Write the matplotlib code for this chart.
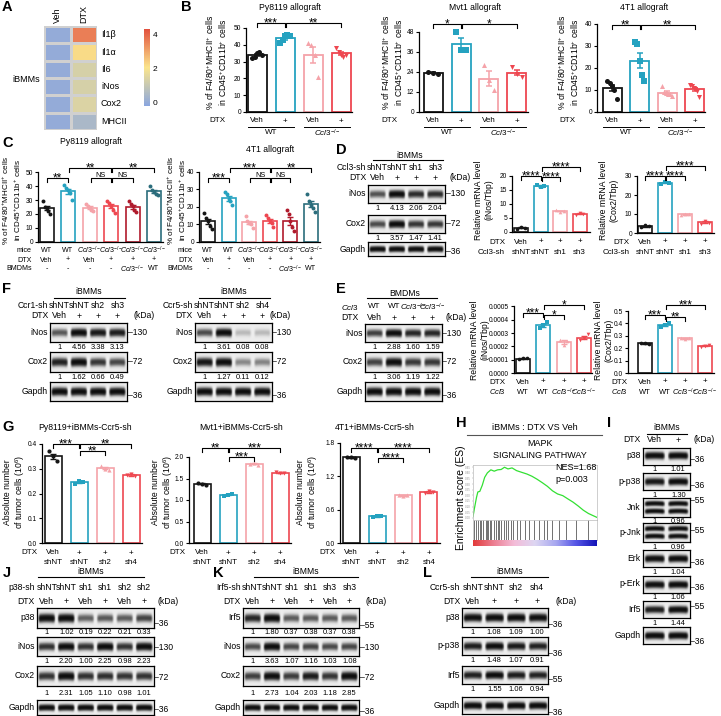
import numpy as np
import matplotlib
matplotlib.use('Agg')
import matplotlib.pyplot as plt
from matplotlib.colors import LinearSegmentedColormap

plt.rcParams['font.family'] = ['Liberation Sans', 'DejaVu Sans']
plt.rcParams['mathtext.fontset'] = 'custom'
plt.rcParams['mathtext.rm'] = 'Liberation Sans'
plt.rcParams['mathtext.it'] = 'Liberation Sans:italic'
plt.rcParams['mathtext.bf'] = 'Liberation Sans:bold'
plt.rcParams['axes.linewidth'] = 0.8

# ======================= DATA =======================
# A: heatmap
hm_genes = ['Il1β', 'Il1α', 'Il6', 'iNos', 'Cox2', 'MHCII']
hm_conditions = ['Veh', 'DTX']
hm_veh = [0.0, 0.0, 0.0, 0.0, 0.0, 0.0]
hm_dtx = [3.6, 2.2, 1.3, 1.3, 1.4, 0.45]
hm_ticks = [0, 2, 4]

CCL3 = r'$\it{Ccl3}^{-/-}$'
# B: F4/80+MHCII+ (% of CD45+CD11b+)
b_dtx = ['Veh', '+', 'Veh', '+']
b_geno = ['WT', CCL3]
b_py = [[32, 33, 35, 36, 34], [41, 43, 45, 46, 45], [41, 40, 34, 21], [38, 36, 34, 33, 34]]
b_mvt = [[24, 23.5, 23], [48, 37, 37], [28, 19, 13], [27, 23, 21]]
b_4t1 = [[14, 13, 12, 10, 6], [32, 31, 23, 17, 14], [12, 9, 8.5, 8, 8, 7.5],
         [12.4, 11.9, 10.9, 10.4, 9.4, 6.8]]

# C
c_mice = ['WT', 'WT', CCL3, CCL3, CCL3, CCL3]
c_dtx = ['Veh', '+', 'Veh', '+', '+', '+']
c_bmdm = ['-', '-', '-', '-', CCL3, 'WT']
c_py = [[29, 25, 24, 22, 20], [41, 39, 37, 35, 30], [27.5, 26, 24.5, 23, 22],
        [29.5, 28, 26, 23, 21], [29, 27.5, 25.5, 23, 21.5], [40, 37, 36, 34.5, 34]]
c_4t1 = [[16.5, 13.5, 12, 9, 7.5], [28.5, 27, 24.5, 23, 21], [14.5, 12, 11, 10, 8],
         [15.5, 13.5, 12, 10.5, 8.5], [18, 16, 12, 8.5, 6], [27, 23, 21, 19.5, 17]]

# D
d_dtx = ['Veh', '+', '+', '+']
d_sh = ['shNT', 'shNT', 'sh1', 'sh3']
d_inos_blot = [1, 4.13, 2.06, 2.04]
d_cox2_blot = [1, 3.57, 1.47, 1.41]
d_gapdh_blot = [1, 1, 1, 1]
d_inos_mrna = [[1.2, 1.9, 1.5], [16.8, 16.1, 16.3], [7.7, 7.3, 7.5], [6.2, 6.7, 6.5]]
d_cox2_mrna = [[3.0, 4.0, 3.5], [26.0, 26.9, 26.5], [9.5, 10.2, 9.8], [5.0, 6.5, 5.3]]

# E
e_dtx = ['Veh', '+', '+', '+']
e_geno = ['WT', 'WT', CCL3, CCL3]
e_inos_blot = [1, 2.88, 1.60, 1.59]
e_cox2_blot = [1, 3.06, 1.19, 1.22]
e_gapdh_blot = [1, 1, 1, 1]
e_inos_mrna = [[0.000105, 0.00011, 0.000112], [0.00034, 0.00036, 0.00038],
               [0.00025, 0.00021, 0.00024], [0.00025, 0.00026, 0.00029]]
e_cox2_mrna = [[0.24, 0.245, 0.235], [0.37, 0.39, 0.40], [0.28, 0.275, 0.285], [0.21, 0.22, 0.225]]

# F
f_dtx = ['Veh', '+', '+', '+']
f1_sh = ['shNT', 'shNT', 'sh2', 'sh3']
f1_inos = [1, 4.56, 3.38, 3.13]
f1_cox2 = [1, 1.62, 0.66, 0.49]
f2_sh = ['shNT', 'shNT', 'sh2', 'sh4']
f2_inos = [1, 3.61, 0.08, 0.08]
f2_cox2 = [1, 1.27, 0.11, 0.12]
f_gapdh = [1, 1, 1, 1]

# G
g_dtx = ['Veh', '+', '+', '+']
g_sh = ['shNT', 'shNT', 'sh2', 'sh4']
g_py = [[0.37, 0.35, 0.33], [0.24, 0.25, 0.245], [0.31, 0.30, 0.295], [0.275, 0.28, 0.27]]
g_mvt = [[1.40, 1.38, 1.36], [1.10, 1.12, 1.14], [1.84, 1.86, 1.82], [1.64, 1.63, 1.62]]
g_4t1 = [[1.54, 1.55, 1.53], [0.47, 0.48, 0.49], [0.86, 0.85, 0.87], [0.90, 0.94, 0.92]]

# H: GSEA running enrichment score
h_rank = [0, 0.011, 0.028, 0.039, 0.055, 0.075, 0.094, 0.116, 0.144, 0.171, 0.199, 0.227,
          0.254, 0.282, 0.315, 0.351, 0.392, 0.434, 0.475, 0.517, 0.558, 0.6, 0.641, 0.682,
          0.724, 0.765, 0.807, 0.848, 0.89, 0.931, 0.972, 1.0]
h_es = [0.01, 0.08, 0.18, 0.23, 0.235, 0.29, 0.36, 0.40, 0.427, 0.415, 0.427, 0.43,
        0.45, 0.435, 0.444, 0.42, 0.405, 0.39, 0.37, 0.343, 0.313, 0.28, 0.24, 0.212,
        0.197, 0.168, 0.139, 0.105, 0.067, 0.038, 0.017, 0.003]
h_hits = [0.01, 0.028, 0.039, 0.055, 0.066, 0.083, 0.102, 0.116, 0.124, 0.138, 0.149, 0.166,
          0.185, 0.199, 0.213, 0.227, 0.249, 0.268, 0.282, 0.304, 0.323, 0.351, 0.378, 0.42,
          0.448, 0.489, 0.53, 0.572, 0.6, 0.641, 0.696, 0.751, 0.834, 0.931]

# I
i_dtx = ['Veh', '+']
i_blots = [('p38', [1, 1.01], '36'), ('p-p38', [1, 1.30], '36'), ('Jnk', [1, 0.96], '55'),
           ('p-Jnk', [1, 0.96], '55'), ('Erk', [1, 1.04], '36'), ('p-Erk', [1, 1.06], '36'),
           ('Irf5', [1, 1.44], '55'), ('Gapdh', [1, 1], '36')]

# J
j_sh = ['shNT', 'shNT', 'sh1', 'sh1', 'sh2', 'sh2']
j_dtx = ['Veh', '+', 'Veh', '+', 'Veh', '+']
j_p38 = [1, 1.02, 0.19, 0.22, 0.21, 0.33]
j_inos = [1, 2.20, 1.00, 2.25, 0.98, 2.23]
j_cox2 = [1, 2.31, 1.05, 1.10, 0.98, 1.01]
j_gapdh = [1, 1, 1, 1, 1, 1]

# K
k_sh = ['shNT', 'shNT', 'sh1', 'sh1', 'sh3', 'sh3']
k_dtx = ['Veh', '+', 'Veh', '+', 'Veh', '+']
k_irf5 = [1, 1.80, 0.37, 0.38, 0.37, 0.38]
k_inos = [1, 3.63, 1.07, 1.16, 1.03, 1.08]
k_cox2 = [1, 2.73, 1.04, 2.03, 1.18, 2.85]
k_gapdh = [1, 1, 1, 1, 1, 1]

# L
l_sh = ['shNT', 'shNT', 'sh2', 'sh4']
l_dtx = ['Veh', '+', '+', '+']
l_p38 = [1, 1.08, 1.09, 1.00]
l_pp38 = [1, 1.48, 1.07, 0.91]
l_irf5 = [1, 1.55, 1.06, 0.94]
l_gapdh = [1, 1, 1, 1]

# ======================= STYLE / LAYOUT =======================
W, H = 721, 716
BLACK, TEAL, PINK, RED = '#151515', '#25a2c0', '#f5a3a9', '#ee4750'
DRED, DTEAL = '#b01a2c', '#2b6d7c'
FS_T, FS_L, FS_TK, FS_X, FS_B = 6.2, 6.2, 4.8, 5.8, 6.2

fig = plt.figure(figsize=(W / 100, H / 100), dpi=100)
ov = fig.add_axes([0, 0, 1, 1])
ov.set_xlim(0, W)
ov.set_ylim(H, 0)
ov.axis('off')
ov.set_zorder(10)


def R(x0, y0, x1, y1):
    return [x0 / W, 1 - y1 / H, (x1 - x0) / W, (y1 - y0) / H]


def T(x, y, s, size=FS_X, ha='center', va='center', **kw):
    ov.text(x, y, s, fontsize=size, ha=ha, va=va, **kw)


def letter(x, y, s):
    T(x, y, s, size=10.5, ha='left', va='center', fontweight='bold')


def barchart(groups, colors, markers, axis_x, c0, sp, right_x, y0, ytop, ymax, yticks,
             yticklabels=None, bw=14, ms=8, lw=1.2):
    n = len(groups)
    ax = fig.add_axes(R(axis_x, ytop, right_x, y0))
    ax.patch.set_visible(False)
    ax.set_xlim((axis_x - c0) / sp, (right_x - c0) / sp)
    ax.set_ylim(0, ymax)
    x = np.arange(n)
    means = np.array([np.mean(g) for g in groups])
    sems = np.array([np.std(g, ddof=1) / np.sqrt(len(g)) for g in groups])
    w = bw / sp
    ax.bar(x, means, width=w, facecolor='none', edgecolor=colors, linewidth=lw, zorder=2)
    for i, g in enumerate(groups):
        off = np.linspace(-0.26, 0.26, len(g)) * w
        ax.scatter(i + off, g, s=ms, marker=markers[i], color=colors[i], linewidths=0,
                   zorder=4, clip_on=False)
        ax.errorbar([i], [means[i]], yerr=[sems[i]], color=colors[i], capsize=2.2,
                    elinewidth=lw * 0.85, capthick=lw * 0.85, zorder=3)
    for s in ['top', 'right']:
        ax.spines[s].set_visible(False)
    ax.spines['left'].set_linewidth(0.9)
    ax.spines['bottom'].set_linewidth(0.9)
    ax.set_xticks([])
    ax.set_yticks(yticks)
    if yticklabels is not None:
        ax.set_yticklabels(yticklabels)
    ax.tick_params(axis='y', length=2.5, width=0.8, labelsize=FS_TK, pad=1)
    return [c0 + i * sp for i in range(n)]


def bracket(cx, i, j, y, label, size=8.5, tick=3.5, gap=1.0):
    xa, xb = cx[i] + (gap if i > 0 else 0), cx[j]
    ov.plot([xa, xa, xb, xb], [y + tick, y, y, y + tick], color='k', lw=0.8)
    if label == 'NS':
        T((xa + xb) / 2, y - 1.2, label, size=5.3, va='baseline')
    else:
        T((xa + xb) / 2, y + 3.0, label, size=size, va='baseline')


def xrow(cx, y, head, labels, head_x, size=FS_X, head_kw=None):
    if head:
        T(head_x, y, head, size=size, ha='right', **(head_kw or {}))
    for x, s in zip(cx, labels):
        T(x, y, s, size=size)


def ylabel(x, y, s, size=FS_L):
    T(x, y, s, size=size, rotation=90, linespacing=1.15)


def band_image(vals, nbands=1, ncol=50, nrow=30):
    vals = np.asarray(vals, float)
    n = len(vals)
    amp = 0.95 * np.clip(vals / vals.max(), 0, 1) ** 0.6
    xs = (np.arange(n * ncol) + 0.5) / ncol
    ys = (np.arange(nrow) + 0.5) / nrow
    img = np.zeros((nrow, n * ncol)) + 0.03
    centers = [0.5] if nbands == 1 else [0.32, 0.7]
    sig = 0.17 if nbands == 1 else 0.1
    for i, a in enumerate(amp):
        d = np.abs(xs - (i + 0.5))
        fx = np.clip((0.45 - d) / 0.12, 0, 1)
        for yc in centers:
            fy = np.exp(-((ys[:, None] - yc - 0.15 * d[None, :] ** 2) / sig) ** 2)
            img += a * fy * fx[None, :]
    img = 1 - np.exp(-2.4 * img)
    return img / (1 - np.exp(-2.4))


def blot(x0, x1, y0, y1, vals, label, kda, kda_dy=0.0, nums=True, nbands=1, num_dy=5.2):
    n = len(vals)
    ax = fig.add_axes(R(x0, y0, x1, y1))
    ax.imshow(band_image(vals, nbands), cmap='gray_r', vmin=0, vmax=1.05, aspect='auto',
              extent=(0, n, 1, 0), interpolation='bilinear')
    ax.set_xticks([])
    ax.set_yticks([])
    for s in ax.spines.values():
        s.set_linewidth(0.9)
    T(x0 - 2.5, (y0 + y1) / 2, label, size=FS_B, ha='right')
    T(x1 + 0.5, (y0 + y1) / 2 + kda_dy, '–' + kda, size=FS_B, ha='left')
    if nums:
        lw_ = (x1 - x0) / n
        for i, v in enumerate(vals):
            T(x0 + (i + 0.5) * lw_, y1 + num_dy, '1' if i == 0 else f'{v:.2f}', size=5.4)


def lanes(x0, x1, n):
    return [x0 + (i + 0.5) * (x1 - x0) / n for i in range(n)]


mk4 = ['o', 's', '^', 'v']
col4 = [BLACK, TEAL, PINK, RED]
col6 = [BLACK, TEAL, PINK, RED, DRED, DTEAL]

# ======================= A =======================
letter(2, 7, 'A')
hm_cmap = LinearSegmentedColormap.from_list('hm', ['#8aa6df', '#fbe58c', '#e2513e'])
axA = fig.add_axes(R(44, 26, 97, 130))
mesh = axA.pcolormesh(np.column_stack([hm_veh, hm_dtx]), cmap=hm_cmap, vmin=-0.2, vmax=4.3,
                      edgecolors='#d0d0d0', linewidth=0.8)
axA.set_xlim(0, 2)
axA.set_ylim(len(hm_genes), 0)
axA.axis('off')
for i, g in enumerate(hm_genes):
    axA.text(2.15, i + 0.5, g, fontsize=6.5, ha='left', va='center', clip_on=False)
for j, c in enumerate(hm_conditions):
    axA.text(j + 0.5, -0.2, c, fontsize=6.5, ha='center', va='bottom', rotation=90, clip_on=False)
T(26, 79, 'iBMMs', size=6.5)
cax = fig.add_axes(R(144, 29, 150, 106))
cb = fig.colorbar(mesh, cax=cax, ticks=hm_ticks)
cb.outline.set_visible(False)
cax.tick_params(length=0, labelsize=6, pad=2)

# ======================= B =======================
letter(181, 7, 'B')
b_specs = [
    (b_py, 'Py8119 allograft', 246, 257, 28, 352, 112, 28, 50, [0, 10, 20, 30, 40, 50], 217, 290,
     [(0, 1, 23, '***'), (1, 3, 23, '**')]),
    (b_mvt, 'Mvt1 allograft', 419, 433, 28, 528, 112, 32, 48, [0, 12, 24, 36, 48], 393, 475,
     [(0, 1, 24, '*'), (1, 3, 24, '*')]),
    (b_4t1, '4T1 allograft', 597, 612, 27.5, 705, 112, 24, 40, [0, 10, 20, 30, 40], 569, 644,
     [(0, 1, 25, '**'), (1, 3, 25, '**')]),
]
for data, title, ax_x, c0, sp, rx, y0, yt, ymax, ticks, ylx, tx, brs in b_specs:
    cx = barchart(data, col4, mk4, ax_x, c0, sp, rx, y0, yt, ymax, ticks, bw=19, ms=13, lw=1.3)
    T(tx, 8, title, size=FS_T)
    ylabel(ylx, 62, '% of F4/80$^{+}$MHCII$^{+}$ cells\nin CD45$^{+}$CD11b$^{+}$ cells')
    for i, j, y, s in brs:
        bracket(cx, i, j, y, s)
    xrow(cx, 121, 'DTX', b_dtx, ax_x - 21)
    for k in range(2):
        ov.plot([cx[2 * k] - 9, cx[2 * k + 1] + 9], [126.5, 126.5], color='k', lw=0.7)
        T((cx[2 * k] + cx[2 * k + 1]) / 2, 133, b_geno[k])

# ======================= C =======================
letter(2, 143, 'C')
c_specs = [
    (c_py, 'Py8119 allograft', 38, 46.5, 21.5, 163, 241.7, 172.3, 50, [0, 10, 20, 30, 40, 50], 12, 91, 142,
     [(0, 1, 178, '**'), (1, 3, 168, '**'), (2, 3, 178, 'NS'), (3, 5, 168, '**'), (3, 4, 178, 'NS')]),
    (c_4t1, '4T1 allograft', 199, 208, 20.6, 320, 242, 171.5, 40, [0, 10, 20, 30, 40], 177, 270, 150,
     [(0, 1, 178, '***'), (1, 3, 168, '***'), (2, 3, 178, 'NS'), (3, 5, 168, '**'), (3, 4, 178, 'NS')]),
]
for data, title, ax_x, c0, sp, rx, y0, yt, ymax, ticks, ylx, tx, ty, brs in c_specs:
    cx = barchart(data, col6, ['o'] * 6, ax_x, c0, sp, rx, y0, yt, ymax, ticks, bw=14, ms=8, lw=1.2)
    T(tx, ty, title, size=FS_T)
    ylabel(ylx, 200, '% of F4/80$^{+}$MHCII$^{+}$ cells\nin CD45$^{+}$CD11b$^{+}$ cells', size=5.9)
    for i, j, y, s in brs:
        bracket(cx, i, j, y, s)
    xrow(cx, 250, 'mice', c_mice, ax_x - 6, size=5.1)
    xrow(cx, 260, 'DTX', c_dtx, ax_x - 6, size=5.1)
    xrow(cx, 269, 'BMDMs', c_bmdm, ax_x - 6, size=5.1)

# ======================= D =======================
letter(336, 150, 'D')
dl = lanes(368, 445, 4)
T(410, 155, 'iBMMs', size=FS_B)
ov.plot([373, 443], [160, 160], color='k', lw=0.8)
xrow(dl, 168, 'Ccl3-sh', d_sh, 366, size=FS_B)
xrow(dl, 178, 'DTX', d_dtx, 366, size=FS_B)
T(450, 178, '(kDa)', size=FS_B, ha='left')
blot(368, 445, 185, 203, d_inos_blot, 'iNos', '130')
blot(368, 445, 215, 233, d_cox2_blot, 'Cox2', '72')
blot(368, 445, 242, 256, d_gapdh_blot, 'Gapdh', '36', kda_dy=3, nums=False)

cx = barchart(d_inos_mrna, col4, mk4, 512, 521, 19.5, 590, 232, 176, 20, [0, 5, 10, 15, 20],
              bw=14, ms=7, lw=1.2)
ylabel(484, 200, 'Relative mRNA level\n(iNos/Tbp)')
for i, j, y, s in [(0, 1, 176, '****'), (1, 2, 177, '****'), (1, 3, 167, '****')]:
    bracket(cx, i, j, y, s)
xrow(cx, 242, 'DTX', d_dtx, 505, size=FS_X)
xrow(cx, 252, 'Ccl3-sh', d_sh, 505, size=FS_X)

cx = barchart(d_cox2_mrna, col4, mk4, 637, 645, 20, 714, 233, 176, 30, [0, 10, 20, 30],
              bw=14, ms=7, lw=1.2)
ylabel(609, 200, 'Relative mRNA level\n(Cox2/Tbp)')
for i, j, y, s in [(0, 1, 176, '****'), (1, 2, 176, '****'), (1, 3, 166, '****')]:
    bracket(cx, i, j, y, s)
xrow(cx, 242, 'DTX', d_dtx, 630, size=FS_X)
xrow(cx, 252, 'Ccl3-sh', d_sh, 630, size=FS_X)

# ======================= F =======================
letter(2, 289, 'F')
for (x0, x1, sh, head, inos, cox2, kx) in [(50, 127, f1_sh, 'Ccr1-sh', f1_inos, f1_cox2, 134),
                                         (195, 272, f2_sh, 'Ccr5-sh', f2_inos, f2_cox2, 270)]:
    fl = lanes(x0, x1, 4)
    T((x0 + x1) / 2, 292, 'iBMMs', size=FS_B)
    ov.plot([x0 + 4, x1 - 2], [298, 298], color='k', lw=0.8)
    xrow(fl, 306, head, sh, x0 - 2, size=FS_B)
    xrow(fl, 316, 'DTX', f_dtx, x0 - 2, size=FS_B)
    T(kx, 316, '(kDa)', size=FS_B, ha='left')
    blot(x0, x1, 323, 342, inos, 'iNos', '130')
    blot(x0, x1, 352, 372, cox2, 'Cox2', '72')
    blot(x0, x1, 382, 401, f_gapdh, 'Gapdh', '36', kda_dy=4, nums=False)

# ======================= E =======================
letter(336, 289, 'E')
el = lanes(365, 442, 4)
T(405, 293, 'BMDMs', size=FS_B)
ov.plot([367, 437], [298, 298], color='k', lw=0.8)
xrow(el, 307, r'$\it{Ccl3}$', e_geno, 359, size=5.8)
xrow(el, 318, 'DTX', e_dtx, 359, size=FS_B)
T(445, 318, '(kDa)', size=FS_B, ha='left')
blot(365, 442, 324, 342, e_inos_blot, 'iNos', '130')
blot(365, 442, 352, 372, e_cox2_blot, 'Cox2', '72')
blot(365, 442, 382, 401, e_gapdh_blot, 'Gapdh', '36', kda_dy=4, nums=False)

cx = barchart(e_inos_mrna, col4, mk4, 514, 523, 20.3, 592, 373, 306.5, 0.0005,
              [0, 0.0001, 0.0002, 0.0003, 0.0004, 0.0005],
              ['0.0000', '0.0001', '0.0002', '0.0003', '0.0004', '0.0005'], bw=14, ms=7, lw=1.2)
ylabel(480, 340, 'Relative mRNA level\n(iNos/Tbp)')
for i, j, y, s in [(0, 1, 313, '***'), (1, 2, 315, '*'), (1, 3, 305, '*')]:
    bracket(cx, i, j, y, s)
xrow(cx, 382, 'DTX', e_dtx, 506, size=FS_X)
xrow(cx, 392, r'$\it{Ccl3}$', e_geno, 506, size=5.4)

cx = barchart(e_cox2_mrna, col4, mk4, 628, 645, 20, 714, 373, 311, 0.5,
              [0, 0.1, 0.2, 0.3, 0.4, 0.5], ['0.0', '0.1', '0.2', '0.3', '0.4', '0.5'],
              bw=14, ms=7, lw=1.2)
ylabel(604, 340, 'Relative mRNA level\n(Cox2/Tbp)')
for i, j, y, s in [(0, 1, 315, '***'), (1, 2, 317, '**'), (1, 3, 305, '***')]:
    bracket(cx, i, j, y, s)
xrow(cx, 382, 'DTX', e_dtx, 628, size=FS_X)
xrow(cx, 392, r'$\it{Ccl3}$', e_geno, 628, size=5.4)

# ======================= G =======================
letter(2, 427, 'G')
g_specs = [
    (g_py, 'Py8119+iBMMs-Ccr5-sh', 42, 53, 26, 142, 444, 0.4, [0, 0.1, 0.2, 0.3, 0.4],
     ['0.0', '0.1', '0.2', '0.3', '0.4'], 15, 85,
     [(0, 1, 444, '***'), (1, 2, 451, '**'), (1, 3, 444, '**')]),
    (g_mvt, 'Mvt1+iBMMs-Ccr5-sh', 189, 202, 26, 291, 457, 2.0, [0, 0.5, 1.0, 1.5, 2.0],
     ['0.0', '0.5', '1.0', '1.5', '2.0'], 163, 241,
     [(0, 1, 448, '**'), (1, 2, 457, '***'), (1, 3, 448, '***')]),
    (g_4t1, '4T1+iBMMs-Ccr5-sh', 340, 351, 26, 440, 443, 1.8, [0, 0.6, 1.2, 1.8],
     ['0.0', '0.6', '1.2', '1.8'], 308, 375,
     [(0, 1, 448, '****'), (1, 2, 458, '****'), (1, 3, 448, '****')]),
]
for data, title, ax_x, c0, sp, rx, yt, ymax, ticks, tls, ylx, tx, brs in g_specs:
    cx = barchart(data, col4, mk4, ax_x, c0, sp, rx, 543, yt, ymax, ticks, tls, bw=17, ms=9, lw=1.2)
    T(tx, 428, title, size=FS_T)
    ylabel(ylx, 492, 'Absolute number\nof tumor cells (10$^{6}$)')
    for i, j, y, s in brs:
        bracket(cx, i, j, y, s)
    xrow(cx, 553, 'DTX', g_dtx, ax_x - 4, size=FS_X)
    xrow(cx, 562, '', g_sh, ax_x - 4, size=FS_X)

# ======================= H =======================
letter(456, 423, 'H')
T(535, 427, 'iBMMs : DTX VS Veh', size=6.5)
ov.plot([467, 602], [435, 435], color='#555555', lw=0.8)
T(540, 444, 'MAPK', size=6.5)
T(540, 455, 'SIGNALING PATHWAY', size=6.5)
axH = fig.add_axes(R(473, 465, 597, 520))
axH.plot(h_rank, h_es, color='#33e033', lw=0.9)
axH.set_xlim(0, 1)
axH.set_ylim(-0.02, 0.47)
axH.set_xticks([])
axH.set_yticks(np.arange(0, 0.46, 0.05))
axH.set_yticklabels([f'{v:.2f}' for v in np.arange(0, 0.46, 0.05)])
axH.tick_params(axis='y', length=1, width=0.3, labelsize=2.2, pad=0.5, colors='#999999')
for s in axH.spines.values():
    s.set_color('#bbbbbb')
    s.set_linewidth(0.5)
T(555, 468, 'NES=1.68', size=6.5, ha='left')
T(555, 480, 'p=0.003', size=6.5, ha='left')
axHh = fig.add_axes(R(473, 520, 597, 540))
axHh.vlines(h_hits, 0, 1, color='#222222', lw=0.45)
axHh.set_xlim(0, 1)
axHh.set_ylim(0, 1)
axHh.set_xticks([])
axHh.set_yticks([])
for s in axHh.spines.values():
    s.set_color('#bbbbbb')
    s.set_linewidth(0.5)
axHc = fig.add_axes(R(473, 540, 597, 546))
rk_cmap = LinearSegmentedColormap.from_list('rk', ['#e23a3a', '#ec7f92', '#f4bcd8', '#ddd6f2',
                                                   '#a8a8f0', '#5555e6', '#1414b8'])
axHc.imshow(np.linspace(0, 1, 256)[None, :], cmap=rk_cmap, aspect='auto', extent=(0, 1, 0, 1))
axHc.set_xticks([])
axHc.set_yticks([])
for s in axHc.spines.values():
    s.set_visible(False)
ylabel(461, 498, 'Enrichment score (ES)', size=7.5)

# ======================= I =======================
letter(607, 423, 'I')
il = lanes(643, 690, 2)
T(667, 428, 'iBMMs', size=FS_B)
ov.plot([647, 687], [434, 434], color='k', lw=0.8)
xrow(il, 440, 'DTX', i_dtx, 640, size=FS_B)
T(694, 440, '(kDa)', size=FS_B, ha='left')
i_kdy = [4, 4, -7, -2, 4, 3, -3, 6]
for k, (name, vals, kda) in enumerate(i_blots):
    yc = 456 + k * 25.6
    h = 19 if name in ('Jnk', 'p-Jnk') else 17
    blot(643, 690, yc - h / 2, yc + h / 2, vals, name, kda, kda_dy=i_kdy[k],
         nums=(name != 'Gapdh'), nbands=2 if 'Jnk' in name else 1)


# ======================= J / K / L =======================
def jkl(lab, lx, x0, x1, lnx0, lnx1, head, sh, dtx, kx, rows, boxes):
    n = len(sh)
    ln = lanes(x0, x1, n)
    letter(lx, 573, lab)
    T((lnx0 + lnx1) / 2, 571, 'iBMMs', size=FS_B)
    ov.plot([lnx0, lnx1], [577, 577], color='k', lw=0.8)
    xrow(ln, 587, head, sh, x0 - 2, size=FS_B)
    xrow(ln, 601.5, 'DTX', dtx, x0 - 2, size=FS_B)
    T(kx, 601.5, '(kDa)', size=FS_B, ha='left')
    for (name, vals, kda, kdy), (y0, y1, ndy) in zip(rows, boxes):
        blot(x0, x1, y0, y1, vals, name, kda, kda_dy=kdy, nums=(name != 'Gapdh'), num_dy=ndy)


jk_boxes = [(608, 628, 5), (637, 656, 5.5), (666, 686, 7.5), (700, 715, 0)]
jkl('J', 3, 37, 154, 38, 144, 'p38-sh', j_sh, j_dtx, 157,
    [('p38', j_p38, '36', 6), ('iNos', j_inos, '130', 1), ('Cox2', j_cox2, '72', 1),
     ('Gapdh', j_gapdh, '36', 2)], jk_boxes)
jkl('K', 213, 243, 359, 254, 358, 'Irf5-sh', k_sh, k_dtx, 366,
    [('Irf5', k_irf5, '55', 8), ('iNos', k_inos, '130', 1), ('Cox2', k_cox2, '72', 2),
     ('Gapdh', k_gapdh, '36', 4)], jk_boxes)
jkl('L', 423, 462, 548, 471, 548, 'Ccr5-sh', l_sh, l_dtx, 555,
    [('p38', l_p38, '36', 7), ('p-p38', l_pp38, '36', 8), ('Irf5', l_irf5, '55', 5),
     ('Gapdh', l_gapdh, '36', 7)],
    [(608, 627, 5), (637, 655, 5.5), (666, 684, 5.5), (697, 714, 0)])

fig.savefig('out.png', dpi=100)
